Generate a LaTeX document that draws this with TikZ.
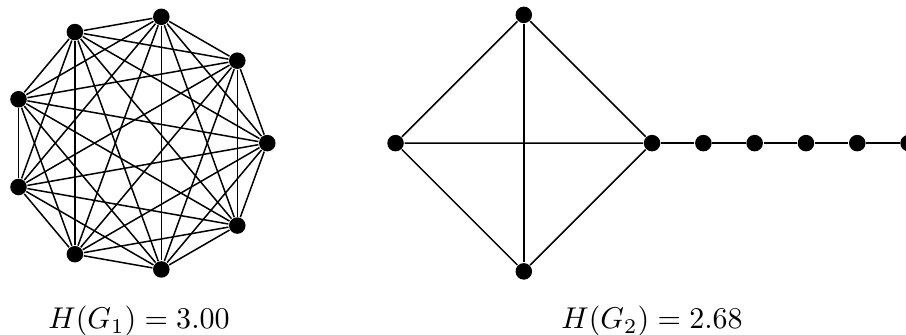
\documentclass[tikz,border=0pt]{standalone}
\usepackage{amssymb}

\begin{document}
\begin{tikzpicture}[scale=0.6, line width=0.5pt,
  vertex/.style={circle, fill=black, inner sep=0pt, minimum size=5.5pt}]
\useasboundingbox (-2.71,2.79) rectangle (14.95,-3.74);

% complete graph on nine vertices
\foreach \i in {0,...,8}
  \node[vertex] (a\i) at (40*\i:2.5) {};
\foreach \i in {0,...,7} {
  \pgfmathtruncatemacro{\k}{\i+1}
  \foreach \j in {\k,...,8}
    \draw (a\i) -- (a\j);
}

% diamond with a tail
\node[vertex] (b1) at (5,0) {};
\node[vertex] (b2) at (7.5,2.5) {};
\node[vertex] (b3) at (10,0) {};
\node[vertex] (b4) at (7.5,-2.5) {};
\draw (b1) -- (b2) -- (b3) -- (b4) -- (b1) -- (b3);
\draw (b2) -- (b4);

\foreach \i in {1,...,5}
  \node[vertex] (c\i) at (10+\i,0) {};
\draw (b3) -- (c1) -- (c2) -- (c3) -- (c4) -- (c5);

\node (h1) at (0,-3.47) {$H(G_1) = 3.00$};
\node (h2) at (10,-3.47) {$H(G_2) = 2.68$};
\end{tikzpicture}
\end{document}
